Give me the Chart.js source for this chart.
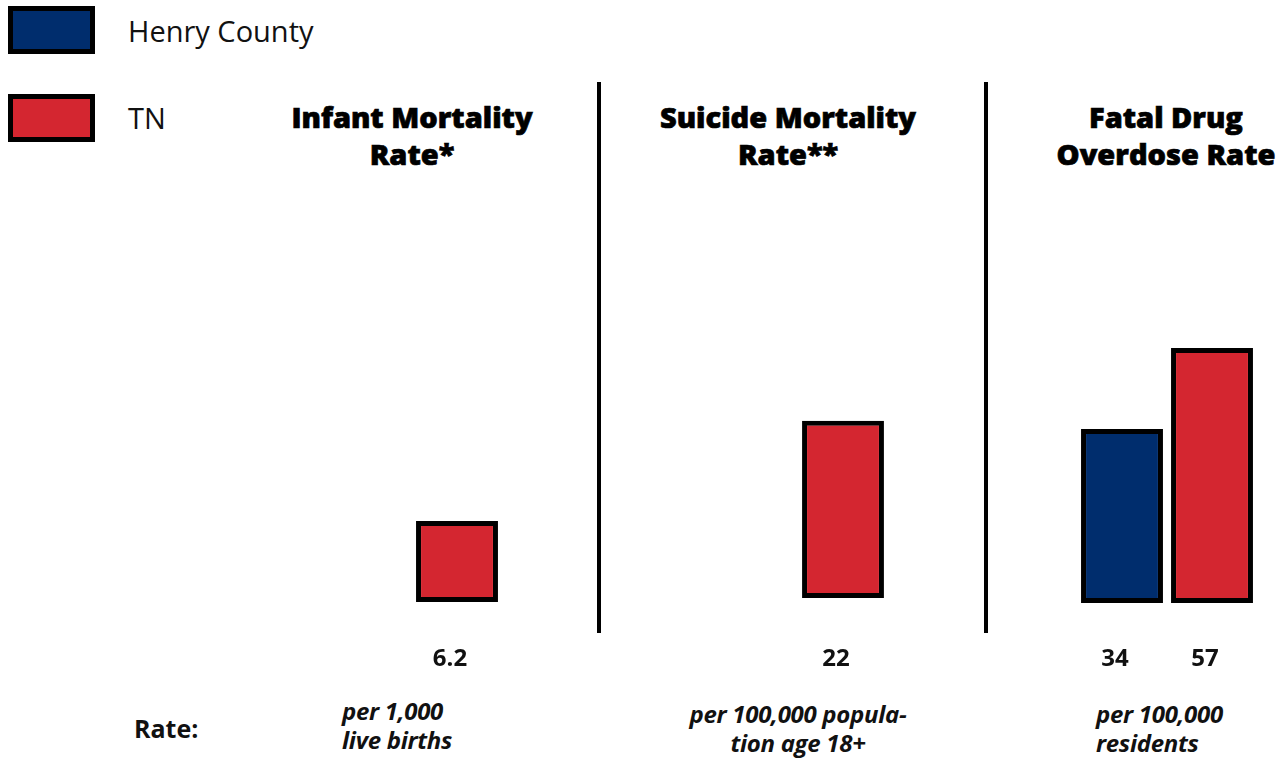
<!DOCTYPE html>
<html>
<head>
<meta charset="utf-8">
<script src="https://cdn.jsdelivr.net/npm/chart.js@4"></script>
<style>
  body { margin:0; width:1287px; height:759px; background:#fff; position:relative; overflow:hidden; font-family:"Open Sans", sans-serif; color:#111; }
  .abs { position:absolute; }
  .swatch { position:absolute; left:8px; width:77px; height:38px; border:5px solid #000; }
  .legtxt { position:absolute; left:128px; font-size:29px; line-height:29px; }
  .title { position:absolute; width:340px; text-align:center; font-size:29px; font-weight:800; line-height:37px; color:#000; -webkit-text-stroke:0.7px #000; }
  .divider { position:absolute; top:82px; width:4px; height:551px; background:#000; }
  .note { position:absolute; font-size:24px; font-weight:700; font-style:italic; line-height:29px; color:#111; letter-spacing:-0.3px; }
  canvas { position:absolute; }
</style>
</head>
<body>
<div class="swatch" style="top:6px;background:#002d6d"></div>
<div class="legtxt" style="top:16px">Henry County</div>
<div class="swatch" style="top:94px;background:#d42630"></div>
<div class="legtxt" style="top:103px">TN</div>

<div class="divider" style="left:597px"></div>
<div class="divider" style="left:984px"></div>

<div id="titles"></div>

<div class="wrap abs" style="left:322px;top:300px;width:180px;height:380px"><canvas id="c0"></canvas></div>
<div class="wrap abs" style="left:708px;top:300px;width:180px;height:380px"><canvas id="c1"></canvas></div>
<div class="wrap abs" style="left:1077px;top:300px;width:180px;height:380px"><canvas id="c2"></canvas></div>

<div class="note" style="left:134px;top:714px;font-style:normal;font-size:25px;letter-spacing:0">Rate:</div>
<div class="note" style="left:342px;top:696px">per 1,000<br>live births</div>
<div class="note" style="left:630px;top:699px;width:336px;text-align:center">per 100,000 popula-<br>tion age 18+</div>
<div class="note" style="left:1096px;top:699px">per 100,000<br>residents</div>

<script>
const seriesNames = ['Henry County', 'TN'];
const panelTitles = [['Infant Mortality', 'Rate*'], ['Suicide Mortality', 'Rate**'], ['Fatal Drug', 'Overdose Rate']];
const henryValues = [null, null, 34];
const tnValues = [6.2, 22, 57];
const colors = ['#002d6d', '#d42630'];

// each panel has its own vertical scale in the original
const axisMin = [0, 0, -15.4];
const axisMax = [23.1, 37.0, 70.6];
const baselines = [602, 598, 603];
const titleCenters = [412, 788, 1166];

const titlesEl = document.getElementById('titles');
panelTitles.forEach((t, i) => {
  const d = document.createElement('div');
  d.className = 'title';
  d.style.left = (titleCenters[i] - 170) + 'px';
  d.style.top = '98px';
  d.innerHTML = t.join('<br>');
  titlesEl.appendChild(d);
});

const valueLabels = {
  id: 'valueLabels',
  afterDatasetsDraw(chart) {
    const ctx = chart.ctx;
    ctx.save();
    ctx.font = '700 24px "Open Sans"';
    ctx.fillStyle = '#111';
    ctx.textAlign = 'center';
    ctx.textBaseline = 'middle';
    chart.data.datasets.forEach((ds, di) => {
      chart.getDatasetMeta(di).data.forEach((bar, j) => {
        const v = ds.data[j];
        if (v === null || v === undefined) return;
        ctx.fillText(String(v), bar.x - 7, 359);
      });
    });
    ctx.restore();
  }
};

[0, 1, 2].forEach(i => {
  new Chart(document.getElementById('c' + i), {
    type: 'bar',
    data: {
      labels: [''],
      datasets: [
        { label: seriesNames[0], data: [henryValues[i]], backgroundColor: colors[0] },
        { label: seriesNames[1], data: [tnValues[i]], backgroundColor: colors[1] }
      ]
    },
    options: {
      responsive: true,
      maintainAspectRatio: false,
      animation: false,
      layout: { padding: { top: 0, left: 0, right: 0, bottom: 680 - baselines[i] } },
      datasets: {
        bar: {
          base: axisMin[i],
          borderColor: '#000',
          borderWidth: 5,
          borderSkipped: false,
          categoryPercentage: 1,
          barPercentage: 0.91,
          inflateAmount: 0
        }
      },
      plugins: { legend: { display: false }, tooltip: { enabled: false } },
      scales: {
        x: { display: false },
        y: { display: false, min: axisMin[i], max: axisMax[i] }
      }
    },
    plugins: [valueLabels]
  });
});
</script>
</body>
</html>
